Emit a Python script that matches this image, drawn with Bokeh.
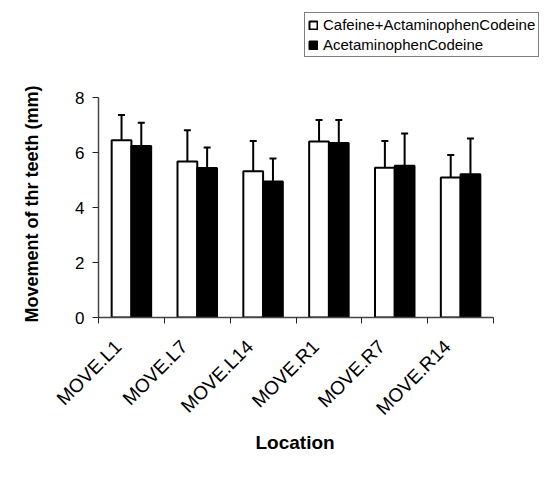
import math
from bokeh.plotting import figure
from bokeh.models import (ColumnDataSource, FixedTicker, Whisker, TeeHead, Legend,
                          LegendItem, Range1d, Title)
from bokeh.embed import file_html
from bokeh.resources import INLINE

categories = ["MOVE.L1", "MOVE.L7", "MOVE.L14", "MOVE.R1", "MOVE.R7", "MOVE.R14"]
series_names = ["Cafeine+ActaminophenCodeine", "AcetaminophenCodeine"]
caf_mean = [6.45, 5.67, 5.32, 6.40, 5.45, 5.09]
caf_sd = [0.91, 1.14, 1.10, 0.78, 0.97, 0.82]
ace_mean = [6.24, 5.44, 4.95, 6.35, 5.52, 5.21]
ace_sd = [0.84, 0.74, 0.83, 0.83, 1.17, 1.30]
y_ticks = [0, 2, 4, 6, 8]
y_max = 8
y_title = "Movement of thr teeth (mm)"
x_title = "Location"

FONT = "Liberation Sans"
n = len(categories)
centers = [i + 0.5 for i in range(n)]
label_pos = [i + 0.30 for i in range(n)]   # anchor of the rotated category labels
bw = 0.3

# layout (pixels)
W, H = 539, 488
LEFT, BOTTOM, TOP = 98, 171, 10
AXIS_W, AXIS_H = 395, 220          # extent of the drawn axes
frame_w = W - LEFT
frame_h = H - BOTTOM - TOP
x_end = n * frame_w / AXIS_W
y_end = y_max * frame_h / AXIS_H

p = figure(width=W, height=H, output_backend="svg", toolbar_location=None,
           x_range=Range1d(0, x_end), y_range=Range1d(0, y_end),
           min_border_left=LEFT, min_border_right=0, min_border_top=TOP,
           min_border_bottom=BOTTOM)
p.grid.visible = False
p.outline_line_color = None
p.background_fill_color = "white"

src1 = ColumnDataSource(dict(x=[c - bw / 2 for c in centers], top=caf_mean,
                             upper=[m + s for m, s in zip(caf_mean, caf_sd)]))
src2 = ColumnDataSource(dict(x=[c + bw / 2 for c in centers], top=ace_mean,
                             upper=[m + s for m, s in zip(ace_mean, ace_sd)]))

r1 = p.vbar(x="x", top="top", width=bw, source=src1, fill_color="white",
            line_color="black", line_width=2)
r2 = p.vbar(x="x", top="top", width=bw, source=src2, fill_color="black",
            line_color="black", line_width=2)

for src in (src1, src2):
    w = Whisker(source=src, base="x", lower="top", upper="upper", line_color="black",
                line_width=2, lower_head=None,
                upper_head=TeeHead(size=7, line_color="black", line_width=2))
    p.add_layout(w)

# x axis
xa = p.xaxis[0]
xa.bounds = (0, n)
xa.ticker = FixedTicker(ticks=label_pos, minor_ticks=list(range(n + 1)))
xa.major_label_overrides = {c: lab for c, lab in zip(label_pos, categories)}
xa.major_tick_out = 0
xa.major_tick_in = 0
xa.minor_tick_out = 6
xa.minor_tick_in = 0
xa.minor_tick_line_color = "#222222"
xa.axis_line_color = "#444444"
xa.axis_line_width = 1.5
xa.major_label_orientation = math.pi / 4
xa.major_label_text_font = FONT
xa.major_label_text_font_size = "19px"
xa.major_label_text_color = "black"
xa.major_label_standoff = 20

xtitle = Title(text=x_title, align="left", offset=157, vertical_align="top",
               standoff=4, text_font=FONT, text_font_style="bold",
               text_font_size="19px", text_color="black")
p.add_layout(xtitle, "below")

# y axis
ya = p.yaxis[0]
ya.bounds = (0, y_max)
ya.ticker = FixedTicker(ticks=y_ticks, minor_ticks=[])
ya.major_tick_out = 6
ya.major_tick_in = 0
ya.major_tick_line_color = "#222222"
ya.axis_line_color = "#444444"
ya.axis_line_width = 1.5
ya.major_label_text_font = FONT
ya.major_label_text_font_size = "17px"
ya.major_label_text_color = "black"
ya.major_label_standoff = 8
# trailing no-break spaces keep the centred label over the 0-8 part of the axis
ya.axis_label = y_title + "\u00a0" * 16
ya.axis_label_text_font = FONT
ya.axis_label_text_font_style = "bold"
ya.axis_label_text_font_size = "18px"
ya.axis_label_text_color = "black"
ya.axis_label_standoff = 30

legend = Legend(items=[LegendItem(label=series_names[0], renderers=[r1]),
                       LegendItem(label=series_names[1], renderers=[r2])],
                location=(206, frame_h - 47), orientation="vertical",
                label_text_font=FONT, label_text_font_size="15px",
                label_text_color="black", glyph_width=10, glyph_height=10,
                label_height=14, spacing=3, padding=3, margin=0,
                label_standoff=5, border_line_color="black", border_line_width=1,
                background_fill_alpha=1)
p.add_layout(legend, "center")

open("out.html", "w").write(file_html(p, INLINE))
